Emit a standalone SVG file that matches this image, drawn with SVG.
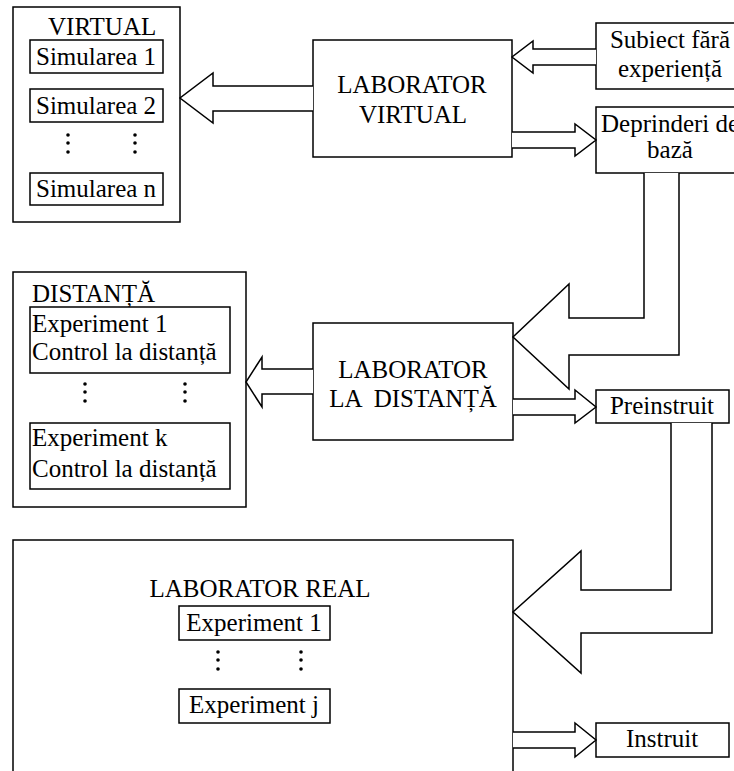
<svg xmlns="http://www.w3.org/2000/svg" width="734" height="771" viewBox="0 0 734 771">
<style>
  rect, path { fill: #fff; stroke: #000; stroke-width: 1.5; }
  text { font-family: "Liberation Serif", "Times New Roman", serif; font-size: 25px; fill: #000; }
  .c { text-anchor: middle; }
  .dot { fill: #000; stroke: none; }
</style>
<rect width="734" height="771" style="fill:#fff;stroke:none"/>

<g id="virtual">
  <rect x="13" y="7" width="167" height="215"/>
  <text x="48" y="35">VIRTUAL</text>
  <rect x="30" y="40" width="133" height="33"/>
  <text x="36" y="65">Simularea 1</text>
  <rect x="30" y="89" width="133" height="33"/>
  <text x="36" y="114">Simularea 2</text>
  <g class="dot">
    <circle cx="68" cy="135" r="1.8"/><circle cx="68" cy="143" r="1.8"/><circle cx="68" cy="152" r="1.8"/>
    <circle cx="135" cy="135" r="1.8"/><circle cx="135" cy="143" r="1.8"/><circle cx="135" cy="152" r="1.8"/>
  </g>
  <rect x="30" y="173" width="133" height="32"/>
  <text x="36" y="197">Simularea n</text>
</g>

<g id="lab-virtual">
  <rect x="313" y="40" width="199" height="117"/>
  <text class="c" x="412" y="93">LABORATOR</text>
  <text class="c" x="413" y="123">VIRTUAL</text>
</g>

<g id="subiect">
  <rect x="596" y="23" width="150" height="66"/>
  <text class="c" x="670" y="48">Subiect fără</text>
  <text class="c" x="670" y="77">experiență</text>
</g>

<g id="deprinderi">
  <rect x="596" y="107" width="150" height="66"/>
  <text x="601" y="132">Deprinderi de</text>
  <text class="c" x="670" y="158">bază</text>
</g>

<g id="distanta">
  <rect x="13" y="272" width="233" height="235"/>
  <text x="32" y="302">DISTANȚĂ</text>
  <rect x="30" y="307" width="200" height="66"/>
  <text x="32" y="332">Experiment 1</text>
  <text x="32" y="360">Control la distanță</text>
  <g class="dot">
    <circle cx="85" cy="384" r="1.8"/><circle cx="85" cy="392" r="1.8"/><circle cx="85" cy="401" r="1.8"/>
    <circle cx="185" cy="384" r="1.8"/><circle cx="185" cy="392" r="1.8"/><circle cx="185" cy="401" r="1.8"/>
  </g>
  <rect x="30" y="423" width="200" height="66"/>
  <text x="32" y="446">Experiment k</text>
  <text x="32" y="477">Control la distanță</text>
</g>

<g id="lab-distanta">
  <rect x="313" y="323" width="200" height="117"/>
  <text class="c" x="413" y="378">LABORATOR</text>
  <text class="c" x="413" y="407" xml:space="preserve">LA  DISTANȚĂ</text>
</g>

<g id="preinstruit">
  <rect x="596" y="390" width="133" height="33"/>
  <text class="c" x="662" y="414">Preinstruit</text>
</g>

<g id="lab-real">
  <rect x="13" y="540" width="500" height="250"/>
  <text class="c" x="260" y="597">LABORATOR REAL</text>
  <rect x="179" y="606" width="151" height="34"/>
  <text class="c" x="254" y="631">Experiment 1</text>
  <g class="dot">
    <circle cx="218" cy="652" r="1.8"/><circle cx="218" cy="660" r="1.8"/><circle cx="218" cy="669" r="1.8"/>
    <circle cx="301" cy="652" r="1.8"/><circle cx="301" cy="660" r="1.8"/><circle cx="301" cy="669" r="1.8"/>
  </g>
  <rect x="179" y="689" width="151" height="34"/>
  <text class="c" x="254" y="713">Experiment j</text>
</g>

<g id="instruit">
  <rect x="596" y="723" width="133" height="34"/>
  <text class="c" x="662" y="747">Instruit</text>
</g>

<g id="connectors">
  <path d="M313,86 H213 V73 L180,98 L213,123 V111 H313"/>
  <path d="M596,49 H533 V41 L512,57 L533,73 V65 H596"/>
  <path d="M512,132 H575 V124 L596,140 L575,156 V148 H512"/>
  <path d="M644,173 V318 H569 V284 L513,337 L569,389 V355 H679 V173"/>
  <path d="M313,369 H262 V357 L246,382 L262,407 V394 H313"/>
  <path d="M513,399 H575 V390 L596,407 L575,423 V415 H513"/>
  <path d="M671,423 V590 H581 V551 L513,612 L581,673 V633 H712 V423"/>
  <path d="M513,732 H575 V723 L596,740 L575,757 V748 H513"/>
</g>
</svg>
